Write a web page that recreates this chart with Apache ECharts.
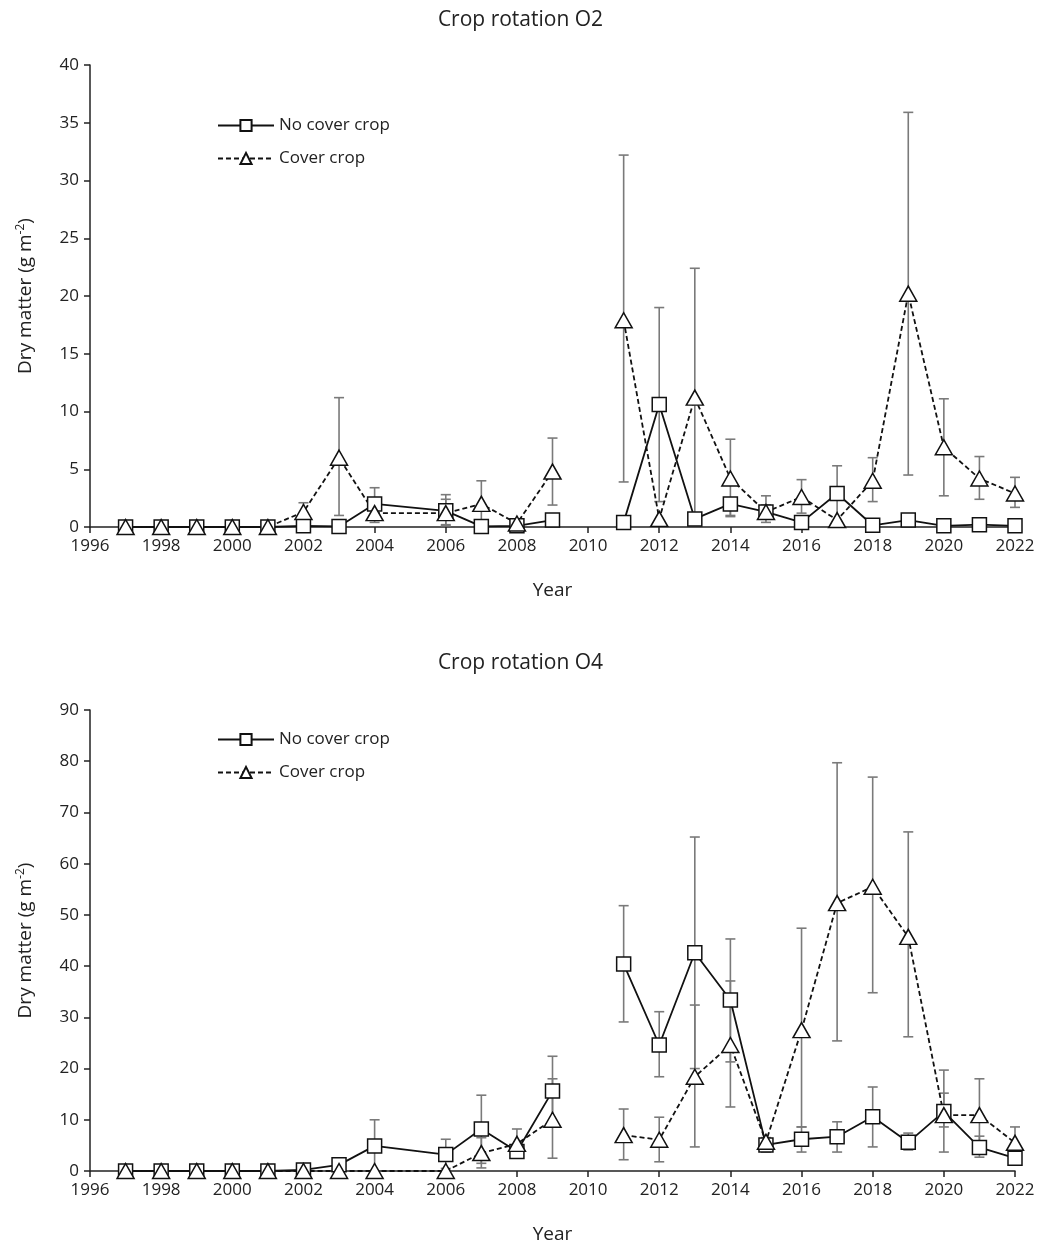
<!DOCTYPE html>
<html>
<head>
<meta charset="utf-8">
<script src="https://cdn.jsdelivr.net/npm/echarts@6/dist/echarts.min.js"></script>
<style>
    html, body { margin: 0; padding: 0; background: #fff; }
    #chart { width: 1041px; height: 1247px; }
</style>
</head>
<body>
<div id="chart"></div>
<script>
// years with data (2005 missing, 2010 is a gap in both series)
const years = [1997, 1998, 1999, 2000, 2001, 2002, 2003, 2004, 2006, 2007, 2008, 2009, 2010,
    2011, 2012, 2013, 2014, 2015, 2016, 2017, 2018, 2019, 2020, 2021, 2022];

// Crop rotation O2
const o2NoCover = [0, 0, 0, 0, 0, 0.1, 0.05, 2.0, 1.4, 0.05, 0.1, 0.6, null,
    0.4, 10.6, 0.7, 2.0, 1.3, 0.4, 2.9, 0.15, 0.6, 0.1, 0.2, 0.1];
const o2NoCoverHi = [null, null, null, null, null, null, null, 3.4, 2.8, null, null, null, null,
    null, 19.0, null, 2.5, 1.9, null, 5.3, null, null, null, null, null];
const o2NoCoverLo = [null, null, null, null, null, null, null, 0.4, 0.1, null, null, null, null,
    null, 2.2, null, 1.0, 0.7, null, 0.5, null, null, null, null, null];
const o2Cover = [0, 0, 0, 0, 0, 1.3, 6.0, 1.2, 1.2, 2.0, 0.3, 4.8, null,
    17.9, 0.7, 11.2, 4.2, 1.3, 2.6, 0.6, 4.0, 20.2, 6.9, 4.2, 2.9];
const o2CoverHi = [null, null, null, null, null, 2.1, 11.2, null, 2.4, 4.0, null, 7.7, null,
    32.2, null, 22.4, 7.6, 2.7, 4.1, null, 6.0, 35.9, 11.1, 6.1, 4.3];
const o2CoverLo = [null, null, null, null, null, 0.6, 1.0, null, 0.2, 0.0, null, 1.9, null,
    3.9, null, 0.1, 0.9, 0.4, 1.2, null, 2.2, 4.5, 2.7, 2.4, 1.7];

// Crop rotation O4
const o4NoCover = [0, 0, 0, 0, 0, 0.2, 1.2, 4.9, 3.2, 8.2, 3.8, 15.6, null,
    40.4, 24.6, 42.6, 33.4, 5.1, 6.2, 6.7, 10.6, 5.6, 11.6, 4.6, 2.5];
const o4NoCoverHi = [null, null, null, null, null, null, null, 10.0, 6.2, 14.8, 4.5, 22.4, null,
    51.8, 31.1, 65.2, 45.3, 6.5, 8.6, 9.6, 16.4, 7.4, 15.2, 6.8, null];
const o4NoCoverLo = [null, null, null, null, null, null, null, 0.0, 0.5, 1.5, 3.0, 8.8, null,
    29.1, 18.4, 20.0, 21.3, 3.7, 3.7, 3.7, 4.7, 4.1, 8.6, 2.7, null];
const o4Cover = [0, 0, 0, 0, 0, 0, 0, 0, 0, 3.5, 5.3, 10.0, null,
    7.0, 6.1, 18.4, 24.6, 5.7, 27.5, 52.3, 55.5, 45.7, 10.9, 10.9, 5.5];
const o4CoverHi = [null, null, null, null, null, null, null, null, null, 6.5, 8.2, 18.0, null,
    12.1, 10.5, 32.4, 37.1, 6.5, 47.4, 79.7, 76.9, 66.2, 19.7, 18.0, 8.6];
const o4CoverLo = [null, null, null, null, null, null, null, null, null, 0.6, 3.5, 2.5, null,
    2.2, 1.8, 4.7, 12.5, 4.5, 8.6, 25.4, 34.8, 26.2, 3.7, 4.0, 3.0];

const yearTicks = [1996, 2022, 2];
const o2Axis = [0, 40, 5];
const o4Axis = [0, 90, 10];

const FONT = "Open Sans";

const pairs = (vals) => years.map((y, i) => [y, vals[i] === null ? "-" : vals[i]]);
const bars = (lo, hi) =>
    years.map((y, i) => [y, lo[i], hi[i]]).filter((d) => d[1] !== null && d[2] !== null);

function renderBar(params, api) {
    const x = api.value(0);
    const p1 = api.coord([x, api.value(1)]);
    const p2 = api.coord([x, api.value(2)]);
    const w = 5;
    const style = { stroke: "#7a7a7a", lineWidth: 1.6 };
    return {
        type: "group",
        children: [
            { type: "line", shape: { x1: p1[0], y1: p1[1], x2: p2[0], y2: p2[1] }, style: style },
            { type: "line", shape: { x1: p1[0] - w, y1: p1[1], x2: p1[0] + w, y2: p1[1] }, style: style },
            { type: "line", shape: { x1: p2[0] - w, y1: p2[1], x2: p2[0] + w, y2: p2[1] }, style: style },
        ],
    };
}

function errorSeries(idx, lo, hi) {
    return {
        type: "custom",
        xAxisIndex: idx,
        yAxisIndex: idx,
        renderItem: renderBar,
        data: bars(lo, hi),
        encode: { x: 0, y: [1, 2] },
        z: 3,
        silent: true,
    };
}

function noCoverSeries(idx, vals) {
    return {
        name: "No cover crop",
        type: "line",
        xAxisIndex: idx,
        yAxisIndex: idx,
        data: pairs(vals),
        connectNulls: false,
        symbol: "rect",
        symbolSize: 14,
        lineStyle: { color: "#111", width: 1.8, type: "solid" },
        itemStyle: { color: "#fff", borderColor: "#111", borderWidth: 1.5 },
        z: 4,
    };
}

function coverSeries(idx, vals) {
    return {
        name: "Cover crop",
        type: "line",
        xAxisIndex: idx,
        yAxisIndex: idx,
        data: pairs(vals),
        connectNulls: false,
        symbol: "triangle",
        symbolSize: [17, 15],
        lineStyle: { color: "#111", width: 1.8, type: [5, 3] },
        itemStyle: { color: "#fff", borderColor: "#111", borderWidth: 1.5 },
        z: 4,
    };
}

function xAxis(idx) {
    return {
        type: "value",
        gridIndex: idx,
        min: yearTicks[0],
        max: yearTicks[1],
        interval: yearTicks[2],
        name: "Year",
        nameLocation: "middle",
        nameGap: 54,
        nameTextStyle: { fontFamily: FONT, fontSize: 19, color: "#222" },
        axisLine: { show: true, onZero: false, lineStyle: { color: "#222", width: 1.5 } },
        axisTick: { show: true, length: 6, lineStyle: { color: "#222", width: 1.5 } },
        axisLabel: { fontFamily: FONT, fontSize: 17, color: "#222", margin: 11, formatter: (v) => String(v) },
        splitLine: { show: false },
    };
}

function yAxis(idx, ax) {
    return {
        type: "value",
        gridIndex: idx,
        min: ax[0],
        max: ax[1],
        interval: ax[2],
        name: "Dry matter (g m{sup|-2})",
        nameLocation: "middle",
        nameGap: 54,
        nameRotate: 90,
        nameTextStyle: {
            fontFamily: FONT,
            fontSize: 19,
            color: "#222",
            rich: { sup: { fontFamily: FONT, fontSize: 12, color: "#222", verticalAlign: "top", padding: [0, 0, 9, 0] } },
        },
        axisLine: { show: true, lineStyle: { color: "#222", width: 1.5 } },
        axisTick: { show: true, length: 6, lineStyle: { color: "#222", width: 1.5 } },
        axisLabel: { fontFamily: FONT, fontSize: 17, color: "#222", margin: 11 },
        splitLine: { show: false },
    };
}

function legend(top) {
    return {
        top: top,
        left: 212,
        orient: "vertical",
        itemWidth: 56,
        itemHeight: 14,
        itemGap: 16,
        data: ["No cover crop", "Cover crop"],
        textStyle: { fontFamily: FONT, fontSize: 17, color: "#222" },
        selectedMode: false,
    };
}

const chart = echarts.init(document.getElementById("chart"));
chart.setOption({
    animation: false,
    title: [
        { text: "Crop rotation O2", left: "center", top: 5, textStyle: { fontFamily: FONT, fontSize: 21, fontWeight: "normal", color: "#222" } },
        { text: "Crop rotation O4", left: "center", top: 648, textStyle: { fontFamily: FONT, fontSize: 21, fontWeight: "normal", color: "#222" } },
    ],
    legend: [legend(112), legend(726)],
    grid: [
        { left: 90, top: 65, width: 925, height: 462 },
        { left: 90, top: 710, width: 925, height: 461 },
    ],
    xAxis: [xAxis(0), xAxis(1)],
    yAxis: [yAxis(0, o2Axis), yAxis(1, o4Axis)],
    series: [
        errorSeries(0, o2NoCoverLo, o2NoCoverHi),
        errorSeries(0, o2CoverLo, o2CoverHi),
        noCoverSeries(0, o2NoCover),
        coverSeries(0, o2Cover),
        errorSeries(1, o4NoCoverLo, o4NoCoverHi),
        errorSeries(1, o4CoverLo, o4CoverHi),
        noCoverSeries(1, o4NoCover),
        coverSeries(1, o4Cover),
    ],
});
</script>
</body>
</html>
